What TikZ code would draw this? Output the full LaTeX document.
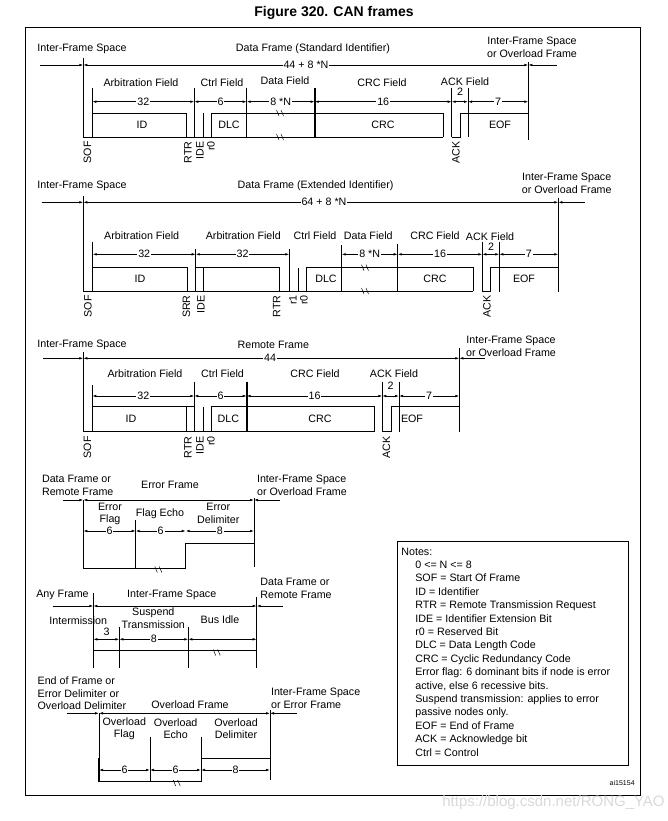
\documentclass[tikz,border=0pt]{standalone}
\usepackage{fontspec}
\setmainfont{Liberation Sans}
\usetikzlibrary{arrows.meta}
\newcount\dimcnt
\newcommand{\dimar}[4]{\global\advance\dimcnt by 1
  \draw[<->] (#1,#3) -- (#2,#3) node[midway,lbl] (dim\the\dimcnt) {#4};}
\newcommand{\brkmark}[2]{\draw[line width=0.5pt] ({#1-3.5},{#2-3}) -- ({#1-1},{#2+3}) ({#1+1},{#2-3}) -- ({#1+3.5},{#2+3});}
\begin{document}
\begin{tikzpicture}[x=1pt,y=-1pt,font=\fontsize{10.7}{12.8}\selectfont,
  >={Latex[length=4pt,width=2.6pt]}, line width=0.7pt,
  lbl/.style={fill=white,inner sep=1pt},
  vl/.style={rotate=90,anchor=east,inner sep=0pt},
  thk/.style={line width=1.6pt},
  ml/.style={align=left,anchor=west,inner sep=0pt},
  mc/.style={align=center}]
\useasboundingbox (0,0) rectangle (668,821);
% title and frame
\node[font=\fontsize{14}{16}\selectfont\bfseries] (title) at (334,13) {Figure 320. CAN frames};
\draw[line width=0.8pt] (25,27) rectangle (640,795);

% ---------- Row 1: Data frame standard ----------
\node (a1) at (82,49) {Inter-Frame Space};
\node (a2) at (313,49) {Data Frame (Standard Identifier)};
\node[mc] (a3) at (532,47.5) {Inter-Frame Space\\or Overload Frame};
\draw[->] (40,65) -- (83.3,65);
\draw[<->] (83.3,65) -- (528.3,65);
\draw[<-] (528.3,65) -- (556.7,65);
\node[lbl] (a4) at (306,65) {44 + 8 *N};
\draw (83.3,58) -- (83.3,137);
\draw (528.3,61.7) -- (528.3,140);
\node (a5) at (141,82.5) {Arbitration Field};
\node (a6) at (222,82.5) {Ctrl Field};
\node (a7) at (285,81) {Data Field};
\node (a8) at (382,82.5) {CRC Field};
\node (a9) at (465,81.5) {ACK Field};
\draw (92.3,88) -- (92.3,137) (194.3,88) -- (194.3,137) (246.7,88) -- (246.7,137)
      (451.7,88) -- (451.7,137) (468,88) -- (468,137);
\draw[thk] (314.7,88) -- (314.7,137);
\dimar{92.3}{194.3}{101.7}{32}
\dimar{194.3}{246.7}{101.7}{6}
\dimar{246.7}{314.7}{101.7}{8 *N}
\dimar{314.7}{451.7}{101.7}{16}
\draw[<->] (451.7,101.7) -- (468,101.7);
\node (a10) at (460,92) {2};
\dimar{468}{528.3}{101.7}{7}
\draw (83.3,137) -- (443.3,137);
\draw (92.3,137) |- (186.7,113) -- (186.7,137);
\draw (203.3,113) -- (203.3,137);
\draw (211.7,137) |- (443.3,113) -- (443.3,137);
\draw (451.7,137) -- (460,137) -- (460,113) -- (528.3,113);
\brkmark{280}{113}
\brkmark{280}{137}
\node (a11) at (142,125) {ID};
\node (a12) at (229,124.5) {DLC};
\node (a13) at (383,125) {CRC};
\node (a14) at (500,125) {EOF};
\node[vl] (a15) at (87.5,141) {SOF};
\node[vl] (a16) at (188,141) {RTR};
\node[vl] (a17) at (200,141) {IDE};
\node[vl] (a18) at (211,141) {r0};
\node[vl] (a19) at (456,141) {ACK};

% ---------- Row 2: Data frame extended ----------
\node (b1) at (82,185.7) {Inter-Frame Space};
\node (b2) at (315.6,185.7) {Data Frame (Extended Identifier)};
\node[mc] (b3) at (566.7,183.2) {Inter-Frame Space\\or Overload Frame};
\draw[->] (41.7,202.3) -- (83.3,202.3);
\draw[<->] (83.3,202.3) -- (558.3,202.3);
\draw[<-] (558.3,202.3) -- (585,202.3);
\node[lbl] (b4) at (324,202.3) {64 + 8 *N};
\draw (83.3,196) -- (83.3,291);
\draw (558.3,198) -- (558.3,291.7);
\node (b5) at (141.7,236) {Arbitration Field};
\node (b6) at (243.3,236) {Arbitration Field};
\node (b7) at (315,236) {Ctrl Field};
\node (b8) at (368.3,236) {Data Field};
\node (b9) at (435,235.5) {CRC Field};
\node (b10) at (490,236.5) {ACK Field};
\draw (92.7,241.7) -- (92.7,291) (195.7,249) -- (195.7,291) (341.7,245) -- (341.7,291)
      (397.7,244) -- (397.7,291) (482.3,241.7) -- (482.3,291);
\draw[thk] (289.3,249) -- (289.3,291) (499.3,241.7) -- (499.3,291.7);
\dimar{92.7}{195.7}{254.3}{32}
\dimar{195.7}{289.3}{254.3}{32}
\dimar{341.7}{397.7}{254.3}{8 *N}
\dimar{397.7}{482.3}{254.3}{16}
\draw[<->] (482.3,254.3) -- (499.3,254.3);
\node (b11) at (491,246.5) {2};
\dimar{499.3}{558.3}{254.3}{7}
\draw (83.3,291) -- (473.3,291);
\draw (92.7,291) |- (187.3,267.7) -- (187.3,291);
\draw (195.7,291) |- (279.3,267.7) -- (279.3,291);
\draw (203.3,267.7) -- (203.3,291);
\draw (298.3,267.7) -- (298.3,291);
\draw (306.7,291) |- (473.3,267.7) -- (473.3,291);
\draw (482.3,291) -- (490,291) -- (490,267.7) -- (558.3,267.7);
\brkmark{365}{267.7}
\brkmark{365}{291}
\node (b12) at (140,279) {ID};
\node (b13) at (326,279) {DLC};
\node (b14) at (435,279) {CRC};
\node (b15) at (524,279) {EOF};
\node[vl] (b16) at (88,295) {SOF};
\node[vl] (b17) at (186.5,295) {SRR};
\node[vl] (b18) at (201,295) {IDE};
\node[vl] (b19) at (276.7,295) {RTR};
\node[vl] (b20) at (293,295) {r1};
\node[vl] (b21) at (304,295) {r0};
\node[vl] (b22) at (487,295) {ACK};

% ---------- Row 3: Remote frame ----------
\node (c1) at (82,345) {Inter-Frame Space};
\node (c2) at (273.3,345) {Remote Frame};
\node[mc] (c3) at (511,346.2) {Inter-Frame Space\\or Overload Frame};
\draw[->] (43.3,358.3) -- (83.3,358.3);
\draw[<->] (83.3,358.3) -- (459.3,358.3);
\draw[<-] (459.3,358.3) -- (485,358.3);
\node[lbl] (c4) at (270,358.3) {44};
\draw (83.3,352) -- (83.3,431.7);
\draw (459.3,348.3) -- (459.3,431.7);
\node (c5) at (145,373.3) {Arbitration Field};
\node (c6) at (222.5,373.3) {Ctrl Field};
\node (c7) at (315,373.3) {CRC Field};
\node (c8) at (394,374) {ACK Field};
\draw (92.3,385) -- (92.3,431.7) (194.3,381.7) -- (194.3,431.7)
      (382.3,381.7) -- (382.3,431.7) (399,381.7) -- (399,431.7);
\draw[thk] (246.7,381.7) -- (246.7,431.7);
\dimar{92.3}{194.3}{396}{32}
\dimar{194.3}{246.7}{396}{6}
\dimar{246.7}{382.3}{396}{16}
\draw[<->] (382.3,396) -- (399,396);
\node (c9) at (390.7,386) {2};
\dimar{399}{459.3}{396}{7}
\draw (83.3,431.7) -- (374.3,431.7);
\draw (92.3,431.7) |- (194.3,406.7);
\draw (186.7,406.7) -- (186.7,431.7);
\draw (203.3,406.7) -- (203.3,431.7);
\draw (211.7,431.7) |- (374.3,406.7) -- (374.3,431.7);
\draw (382.3,431.7) -- (391,431.7) -- (391,406.7) -- (459.3,406.7);
\node (c10) at (131,419) {ID};
\node (c11) at (228.3,419) {DLC};
\node (c12) at (320,419) {CRC};
\node (c13) at (412,419) {EOF};
\node[vl] (c14) at (87.5,436) {SOF};
\node[vl] (c15) at (188,436) {RTR};
\node[vl] (c16) at (200,436) {IDE};
\node[vl] (c17) at (211,436) {r0};
\node[vl] (c18) at (386.5,436) {ACK};

% ---------- Row 4: Error frame ----------
\node[ml] (d1) at (41.7,485.3) {Data Frame or\\Remote Frame};
\node (d2) at (170,485) {Error Frame};
\node[ml] (d3) at (256.7,485.3) {Inter-Frame Space\\or Overload Frame};
\draw[->] (63.3,500) -- (83.3,500);
\draw[<->] (83.3,500) -- (254,500);
\draw[<-] (254,500) -- (280,500);
\draw (83.3,500) -- (83.3,568.3) -- (185.7,568.3) -- (185.7,543.3) -- (254,543.3);
\draw (254,498) -- (254,566.7);
\draw (135.7,520) -- (135.7,568.3);
\brkmark{158.3}{569.5}
\dimar{83.3}{135.7}{531}{6}
\dimar{135.7}{185.7}{531}{6}
\dimar{185.7}{254}{531}{8}
\node[mc] (d4) at (110,514) {Error\\Flag};
\node (d5) at (160,514) {Flag Echo};
\node[mc] (d6) at (218.3,513.5) {Error\\Delimiter};

% ---------- Row 5: Inter-frame space ----------
\node (e1) at (62.5,595) {Any Frame};
\node (e2) at (171.7,595) {Inter-Frame Space};
\node[ml] (e3) at (260,588.7) {Data Frame or\\Remote Frame};
\draw[->] (52.7,606) -- (93.3,606);
\draw[<->] (93.3,606) -- (256.7,606);
\draw[<-] (256.7,606) -- (283.3,606);
\draw (93.3,593.3) -- (93.3,668.3);
\draw (256.7,596.7) -- (256.7,668.3);
\draw (119.3,626.7) -- (119.3,668.3);
\draw (188.3,626.7) -- (188.3,668.3);
\draw (93.3,650.7) -- (256.7,650.7);
\brkmark{216.7}{652.5}
\draw[<->] (93.3,639.3) -- (119.3,639.3);
\node (e4) at (106.7,631.7) {3};
\dimar{119.3}{188.3}{639.3}{8}
\draw[<->] (188.3,639.3) -- (256.7,639.3);
\node (e5) at (78.3,620.7) {Intermission};
\node[mc] (e6) at (153.3,618) {Suspend\\Transmission};
\node (e7) at (220,620) {Bus Idle};

% ---------- Row 6: Overload frame ----------
\node[ml] (f1) at (37.3,693.3) {End of Frame or\\Error Delimiter or\\Overload Delimiter};
\node (f2) at (190,704.3) {Overload Frame};
\node[ml] (f3) at (270.7,698.5) {Inter-Frame Space\\or Error Frame};
\draw[->] (66.7,713.3) -- (99,713.3);
\draw[<->] (99,713.3) -- (270,713.3);
\draw[<-] (270,713.3) -- (296.7,713.3);
\draw (99,713.3) -- (99,781.7) -- (201,781.7) -- (201,758.3) -- (270,758.3);
\draw[thk] (99,758.3) -- (99,781.7);
\draw (150,736.7) -- (150,781.7);
\draw (201,736.7) -- (201,758.3);
\draw (270,710) -- (270,780);
\brkmark{176.7}{783}
\dimar{99}{150}{770}{6}
\dimar{150}{201}{770}{6}
\dimar{201}{270}{770}{8}
\node[mc] (f4) at (124.3,728.7) {Overload\\Flag};
\node[mc] (f5) at (175.7,728.7) {Overload\\Echo};
\node[mc] (f6) at (236,728.7) {Overload\\Delimiter};

% ---------- Notes ----------
\draw[line width=0.7pt] (397,541) rectangle (628,765);
\node[anchor=base west,inner sep=0pt] (n0) at (401,555) {Notes:};
\foreach \t [count=\i] in {0 <= N <= 8, SOF = Start Of Frame, ID = Identifier,
  RTR = Remote Transmission Request, IDE = Identifier Extension Bit,
  r0 = Reserved Bit, DLC = Data Length Code, CRC = Cyclic Redundancy Code,
  Error flag: 6 dominant bits if node is error, {active, else 6 recessive bits.},
  Suspend transmission: applies to error, passive nodes only.,
  EOF = End of Frame, ACK = Acknowledge bit, Ctrl = Control}
  \node[anchor=base west,inner sep=0pt] (n\i) at (415,{555+13.4*\i}) {\t};
\node[anchor=east,inner sep=0pt,font=\fontsize{7}{8}\selectfont] (ai) at (635,783) {ai15154};
\node[anchor=east,inner sep=0pt,text=gray!30,font=\fontsize{15}{18}\selectfont] (wm) at (665,803) {https://blog.csdn.net/RONG\_YAO};
\end{tikzpicture}
\end{document}
